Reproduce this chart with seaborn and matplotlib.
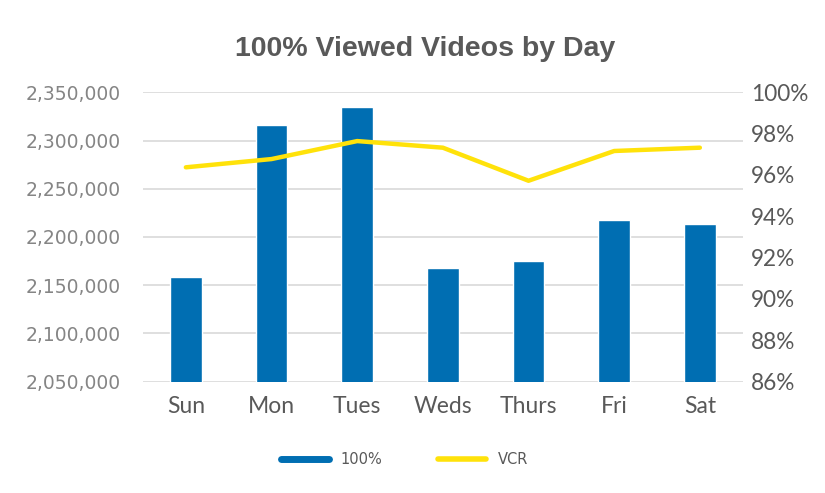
import numpy as np
import pandas as pd
import matplotlib
matplotlib.use("Agg")
import matplotlib.pyplot as plt
from matplotlib.lines import Line2D
from matplotlib.ticker import FuncFormatter, MultipleLocator
import seaborn as sns

days = ["Sun", "Mon", "Tues", "Weds", "Thurs", "Fri", "Sat"]
views_100 = [2158800, 2316100, 2334400, 2167500, 2175100, 2217600, 2213500]
vcr = [0.9637, 0.9677, 0.9764, 0.9732, 0.9572, 0.9716, 0.9732]

bar_color = "#006EB2"
line_color = "#FFE20A"
grey = "#595959"

sns.set_theme(style="white")
plt.rcParams["font.family"] = ["Lato", "DejaVu Sans"]

df = pd.DataFrame({"Day": days, "Views": views_100, "VCR": vcr})

fig = plt.figure(figsize=(8.25, 4.93), dpi=100)
ax = fig.add_axes([0.173, 0.2258, 0.7276, 0.587])

sns.barplot(data=df, x="Day", y="Views", color=bar_color, width=0.37,
            saturation=1, ax=ax)
ax.set_ylim(2050000, 2350000)
ax.yaxis.set_major_locator(MultipleLocator(50000))
ax.yaxis.set_major_formatter(FuncFormatter(lambda v, p: f"{v:,.0f}"))
ax.set_axisbelow(True)
ax.grid(axis="y", color="#d9d9d9", linewidth=1.2)
ax.grid(axis="x", visible=False)
for s in ax.spines.values():
    s.set_visible(False)
ax.set_xlabel("")
ax.set_ylabel("")
ax.tick_params(axis="y", length=0, pad=16, labelsize=13.5, labelcolor="#858585")
ax.tick_params(axis="x", length=0, pad=10, labelsize=16.5, labelcolor=grey)
for t in ax.get_yticklabels():
    t.set_family("DejaVu Sans")

ax2 = ax.twinx()
sns.lineplot(x=np.arange(len(days)), y=df["VCR"], color=line_color,
             linewidth=3.2, ax=ax2)
ax2.set_ylim(0.86, 1.0)
ax2.yaxis.set_major_locator(MultipleLocator(0.02))
ax2.yaxis.set_major_formatter(FuncFormatter(lambda v, p: f"{v * 100:.0f}%"))
ax2.grid(False)
for s in ax2.spines.values():
    s.set_visible(False)
ax2.set_ylabel("")
ax2.tick_params(axis="y", length=0, pad=6, labelsize=16.3, labelcolor=grey)

fig.suptitle("100% Viewed Videos by Day", x=0.515, y=0.927, fontsize=20.5,
             fontweight="bold", color=grey, family="Liberation Sans")

handles = [Line2D([0], [0], color=bar_color, linewidth=5),
           Line2D([0], [0], color=line_color, linewidth=4)]
fig.legend(handles, ["100%", "VCR"], loc="center", bbox_to_anchor=(0.49, 0.067),
           ncol=2, frameon=False, handlelength=3.3, columnspacing=3.8,
           prop={"family": "DejaVu Sans", "size": 10.5}, labelcolor=grey)

fig.savefig("out.png", dpi=100)
